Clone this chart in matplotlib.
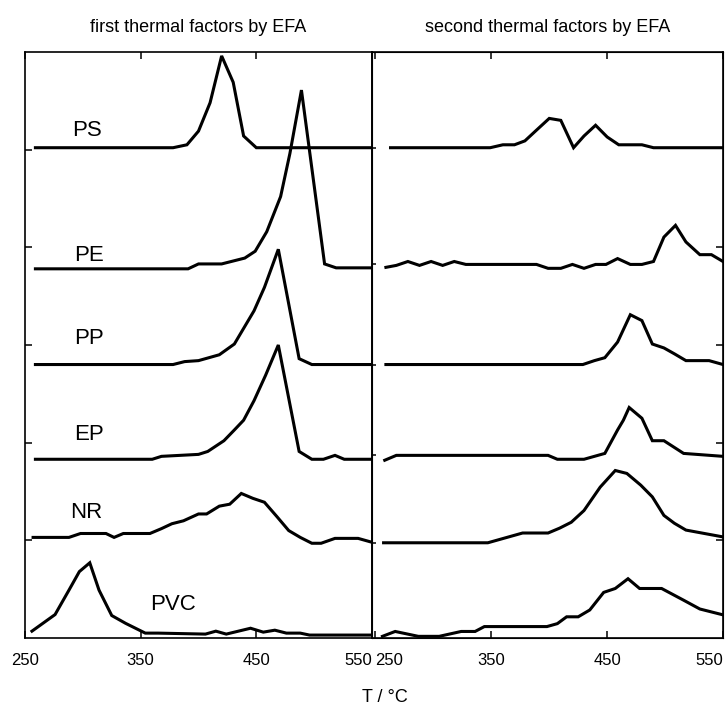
import matplotlib
matplotlib.use('Agg')
import matplotlib.pyplot as plt

plt.rcParams['font.family'] = ['Liberation Sans', 'DejaVu Sans']

polymers = ['PS', 'PE', 'PP', 'EP', 'NR', 'PVC']

# first thermal factors by EFA (T in °C, factor height in tick units)
ps1_t = [259, 378, 390, 400, 410, 420, 430, 439, 450, 550]
ps1_v = [0, 0, .03, .17, .46, .94, .67, .12, 0, 0]
pe1_t = [259, 391, 400, 420, 440, 449, 459, 471, 479, 489, 509, 519, 550]
pe1_v = [0, 0, .05, .05, .11, .18, .38, .74, 1.18, 1.83, .05, .01, .01]
pp1_t = [259, 378, 388, 400, 418, 431, 448, 457, 469, 487, 498, 550]
pp1_v = [0, 0, .03, .04, .10, .21, .55, .79, 1.18, .06, 0, 0]
ep1_t = [259, 360, 368, 400, 408, 422, 431, 439, 448, 458, 469, 487, 498, 508, 518, 526, 550]
ep1_v = [0, 0, .03, .05, .08, .19, .30, .40, .60, .86, 1.17, .08, 0, 0, .04, 0, 0]
nr1_t = [257, 288, 298, 320, 327, 335, 358, 368, 377, 387, 400, 407, 418, 427,
         437, 447, 457, 468, 478, 488, 498, 506, 518, 538, 550]
nr1_v = [0, 0, .04, .04, 0, .04, .04, .09, .14, .17, .24, .24, .32, .34,
         .45, .40, .36, .21, .07, 0, -.06, -.06, -.01, -.01, -.05]
pvc1_t = [256, 276, 288, 297, 306, 314, 325, 337, 354, 365, 406, 415, 424,
          445, 456, 466, 476, 488, 496, 550]
pvc1_v = [.04, .21, .46, .65, .74, .46, .20, .12, .02, .02, .01, .04, .01,
          .07, .03, .05, .02, .02, 0, 0]

# second thermal factors by EFA
ps2_t = [263, 349, 360, 370, 379, 389, 400, 410, 421, 430, 440, 450, 460, 480, 490, 550]
ps2_v = [0, 0, .03, .03, .07, .18, .30, .28, 0, .12, .23, .11, .03, .03, 0, 0]
pe2_t = [259, 268, 278, 288, 298, 308, 318, 328, 389, 399, 410, 420, 430, 440,
         449, 459, 470, 480, 490, 499, 509, 518, 530, 540, 550]
pe2_v = [-.03, -.01, .03, -.01, .03, -.01, .03, 0, 0, -.04, -.04, 0, -.04, 0,
         0, .06, 0, 0, .03, .28, .40, .23, .10, .10, .03]
pp2_t = [259, 429, 439, 448, 459, 470, 480, 489, 499, 508, 518, 538, 550]
pp2_v = [0, 0, .04, .07, .23, .51, .45, .21, .17, .11, .04, .04, 0]
ep2_t = [258, 268, 399, 407, 430, 448, 459, 464, 469, 480, 489, 499, 516, 550]
ep2_v = [-.05, 0, 0, -.04, -.04, .02, .26, .36, .49, .38, .15, .15, .02, -.01]
nr2_t = [257, 347, 359, 377, 399, 409, 419, 430, 444, 457, 467, 479, 489, 499, 508, 518, 550]
nr2_v = [0, 0, .04, .10, .10, .15, .21, .33, .57, .74, .71, .59, .47, .28, .20, .13, .06]
pvc2_t = [256, 267, 287, 305, 324, 336, 344, 398, 407, 415, 425, 435, 447, 457,
          468, 478, 497, 516, 530, 550]
pvc2_v = [0, .05, 0, 0, .05, .05, .10, .10, .13, .20, .20, .27, .45, .49,
          .59, .49, .49, .37, .28, .22]

offsets1 = [5.02, 3.78, 2.80, 1.83, 1.03, 0.03]
offsets2 = [5.02, 3.825, 2.80, 1.87, 0.975, 0.017]

first = [(ps1_t, ps1_v), (pe1_t, pe1_v), (pp1_t, pp1_v),
         (ep1_t, ep1_v), (nr1_t, nr1_v), (pvc1_t, pvc1_v)]
second = [(ps2_t, ps2_v), (pe2_t, pe2_v), (pp2_t, pp2_v),
          (ep2_t, ep2_v), (nr2_t, nr2_v), (pvc2_t, pvc2_v)]

label_pos = [(304, 5.2), (305, 3.92), (305, 3.07), (305, 2.08), (303, 1.29), (378, 0.34)]

fig = plt.figure(figsize=(7.28, 7.07), dpi=100)
ax1 = fig.add_axes([25 / 728, 69 / 707, 347 / 728, 586 / 707])
ax2 = fig.add_axes([372 / 728, 69 / 707, 351 / 728, 586 / 707])

for ax, curves, offs in [(ax1, first, offsets1), (ax2, second, offsets2)]:
    for (t, v), off in zip(curves, offs):
        ax.plot(t, [off + y for y in v], color='black', lw=2.2,
                solid_joinstyle='miter')
    ax.set_ylim(0, 6)
    ax.set_xticks([250, 350, 450, 550], ['250', '350', '450', '550'])
    ax.tick_params(axis='x', direction='in', top=True, length=5, width=1.1,
                   labelsize=12, pad=11)
    for s in ax.spines.values():
        s.set_linewidth(1.2)

ax1.set_xlim(250, 550)
ax2.set_xlim(247, 550)

ax1.set_yticks([1, 2, 3, 4, 5], [])
ax1.tick_params(axis='y', direction='in', length=5, width=1.1)
ax2.set_yticks(offsets2[:5], [])
ax2.tick_params(axis='y', direction='in', length=3, width=1.1)
axr = ax2.twinx()
axr.set_ylim(0, 6)
axr.set_yticks([1, 2, 3, 4], [])
axr.tick_params(axis='y', direction='in', length=5, width=1.1)

lbls = ax1.get_xticklabels()
lbls[-1].set_ha('right')
lbls = ax2.get_xticklabels()
lbls[0].set_ha('left')
lbls[-1].set_ha('right')

for name, (x, y) in zip(polymers, label_pos):
    ax1.text(x, y, name, fontsize=16, ha='center', va='center')

ax1.text(0.5, 1 + 20 / 586, 'first thermal factors by EFA', transform=ax1.transAxes,
         ha='center', va='baseline', fontsize=13)
ax2.text(0.5, 1 + 20 / 586, 'second thermal factors by EFA', transform=ax2.transAxes,
         ha='center', va='baseline', fontsize=13)
fig.text(385 / 728, 1 - 697 / 707, 'T / °C', ha='center', va='center', fontsize=13)

fig.savefig('out.png', dpi=100)
